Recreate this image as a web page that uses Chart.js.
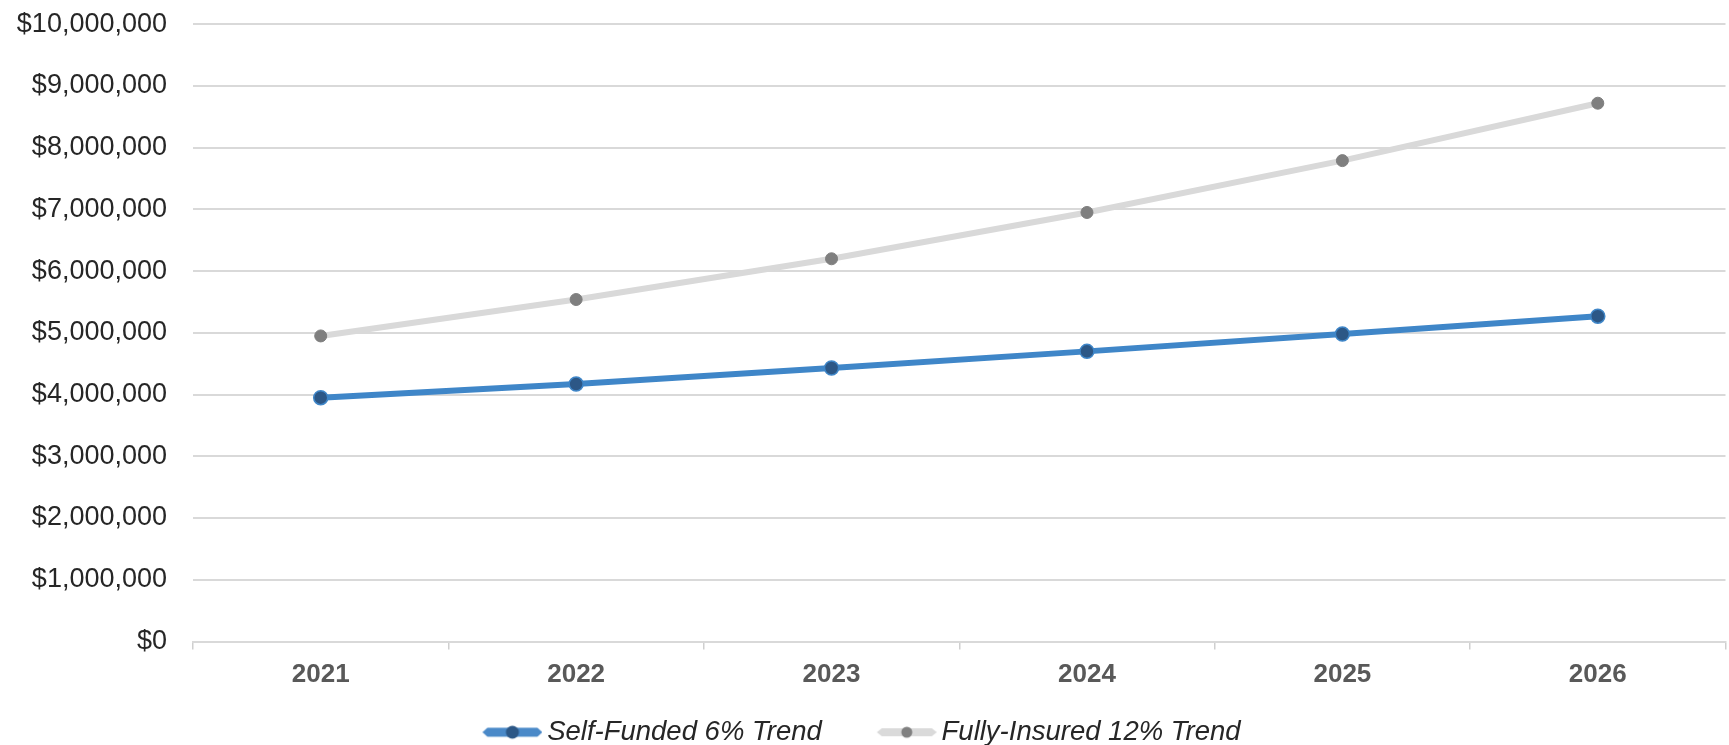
<!DOCTYPE html>
<html>
<head>
<meta charset="utf-8">
<script src="https://cdn.jsdelivr.net/npm/chart.js@4.4.1/dist/chart.umd.min.js"></script>
<style>
    html, body { margin: 0; padding: 0; background: #ffffff; overflow: hidden; }
    #wrap { position: relative; width: 1729px; height: 745px; overflow: hidden; }
    #trendChart { position: absolute; left: -38px; top: -18px; }
</style>
</head>
<body>
<div id="wrap">
    <canvas id="trendChart" width="1772" height="774"></canvas>
</div>
<script>
// Chart values
const years = ['2021', '2022', '2023', '2024', '2025', '2026'];
const selfFunded = [3950000, 4170000, 4430000, 4700000, 4980000, 5270000];
const fullyInsured = [4950000, 5540000, 6200000, 6950000, 7790000, 8720000];
const seriesNames = ['Self-Funded 6% Trend', 'Fully-Insured 12% Trend'];
const yMin = 0;
const yMax = 10000000;
const yStep = 1000000;

const fontFamily = '"Liberation Sans", Arial, sans-serif';

// Legend symbol: a thick line with a dot in the middle.
// The symbol sits at the right of the image so it hugs the label text.
function makeLegendSymbol(lineColor, dotColor, dotRadius, thick) {
    const c = document.createElement('canvas');
    c.width = 96;
    c.height = 18;
    const g = c.getContext('2d');
    const x0 = 36, x1 = 96, y = 9, h = thick / 2;
    g.fillStyle = lineColor;
    g.beginPath();
    g.moveTo(x0, y);
    g.lineTo(x0 + 5, y - h);
    g.lineTo(x1 - 5, y - h);
    g.lineTo(x1, y);
    g.lineTo(x1 - 5, y + h);
    g.lineTo(x0 + 5, y + h);
    g.closePath();
    g.fill();
    g.fillStyle = dotColor;
    g.beginPath();
    g.arc((x0 + x1) / 2, y, dotRadius, 0, Math.PI * 2);
    g.fill();
    return c;
}

const legendSymbols = [
    makeLegendSymbol('#4a89c8', '#2c5786', 6.5, 9),
    makeLegendSymbol('#dadada', '#808080', 5.5, 8)
];

const ctx = document.getElementById('trendChart').getContext('2d');

new Chart(ctx, {
    type: 'line',
    data: {
        labels: years,
        datasets: [{
            label: seriesNames[0],
            data: selfFunded,
            borderColor: '#3f86c8',
            borderWidth: 6,
            pointRadius: 7,
            pointBackgroundColor: '#2c5786',
            pointBorderColor: '#3f86c8',
            pointBorderWidth: 1.5,
            tension: 0
        }, {
            label: seriesNames[1],
            data: fullyInsured,
            borderColor: '#d9d9d9',
            borderWidth: 6,
            pointRadius: 6,
            pointBackgroundColor: '#7f7f7f',
            pointBorderColor: '#7f7f7f',
            pointBorderWidth: 1,
            tension: 0
        }]
    },
    options: {
        responsive: false,
        animation: false,
        layout: {
            padding: { top: 5, right: 0, bottom: 0, left: 0 }
        },
        plugins: {
            tooltip: { enabled: false },
            legend: {
                position: 'bottom',
                labels: {
                    usePointStyle: true,
                    pointStyleWidth: 78,
                    padding: 28,
                    color: '#262626',
                    font: { family: fontFamily, size: 27.5, style: 'italic' },
                    generateLabels: (chart) => {
                        const items = Chart.defaults.plugins.legend.labels.generateLabels(chart);
                        items.forEach((item, i) => { item.pointStyle = legendSymbols[i]; });
                        return items;
                    }
                }
            }
        },
        scales: {
            x: {
                offset: true,
                grid: {
                    offset: true,
                    drawOnChartArea: false,
                    drawTicks: true,
                    tickLength: 8,
                    color: '#cfcfcf',
                    lineWidth: 1.5
                },
                border: { display: true, color: '#d9d9d9', width: 2 },
                ticks: {
                    padding: 10,
                    color: '#595959',
                    font: { family: fontFamily, size: 26, weight: 'bold' }
                },
                afterFit: (scale) => { scale.height = 49; }
            },
            y: {
                min: yMin,
                max: yMax,
                grid: {
                    drawTicks: false,
                    color: '#d9d9d9',
                    lineWidth: 2
                },
                border: { display: false },
                ticks: {
                    stepSize: yStep,
                    padding: 26,
                    color: '#262626',
                    font: { family: fontFamily, size: 27 },
                    callback: (value) => '$' + value.toLocaleString('en-US')
                },
                afterFit: (scale) => { scale.width = 231; }
            }
        }
    }
});
</script>
</body>
</html>
